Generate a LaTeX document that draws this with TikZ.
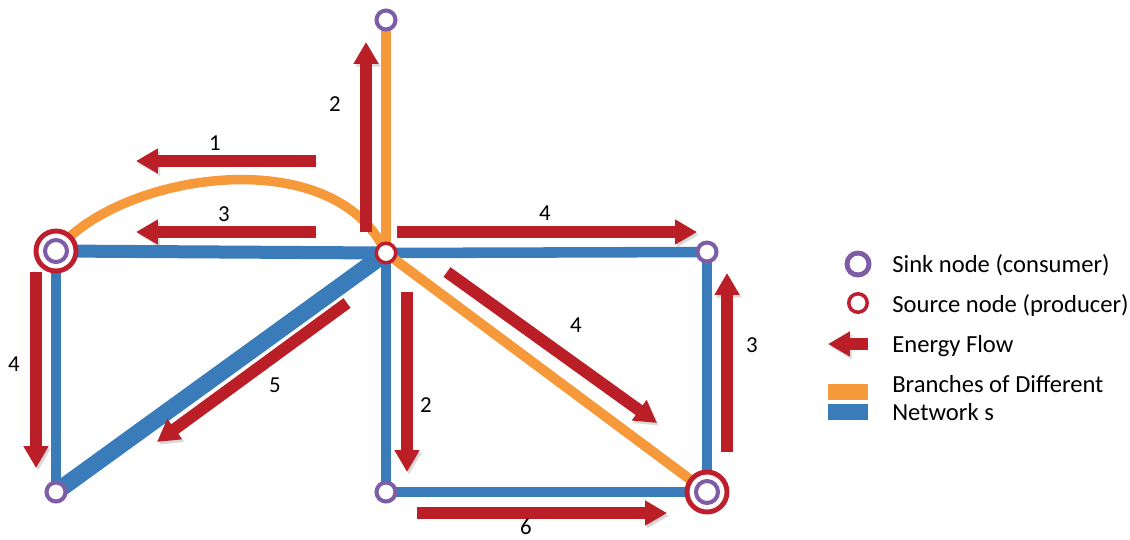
\documentclass[tikz,border=0pt]{standalone}
\usepackage{fontspec}
\setmainfont{Carlito}
\usetikzlibrary{arrows.meta}
\definecolor{netblue}{HTML}{3A7CBA}
\definecolor{netorange}{HTML}{F6993A}
\definecolor{flowred}{HTML}{BA1E26}
\definecolor{sinkpurple}{HTML}{7E5DA8}
\definecolor{srcred}{HTML}{BE1E2D}

\begin{document}
\begin{tikzpicture}[x=0.02cm,y=-0.02cm,font=\fontsize{13}{15}\selectfont,pipe/.style={line width=6pt,draw=netblue},branch/.style={line width=5.7pt,draw=netorange},flow/.style={-{Triangle[length=12.5pt,width=13.5pt]},line width=6.8pt,draw=flowred,preaction={draw=black!60,opacity=.25,transform canvas={shift={(1.2pt,-1.5pt)}}}},sink/.style={circle,draw=sinkpurple,fill=white,line width=2.3pt,minimum size=.38cm,inner sep=0pt},source/.style={circle,draw=srcred,fill=white,line width=2pt,minimum size=.39cm,inner sep=0pt},hub/.style={circle,draw=srcred,fill=white,line width=2.8pt,minimum size=.8cm,inner sep=0pt},legend/.style={anchor=base west,font=\fontsize{14}{16}\selectfont,inner sep=0pt}]
  \useasboundingbox (0,0) rectangle (1130,539);
  \coordinate (top) at (386,20);
  \coordinate (mid) at (386,253);
  \coordinate (west) at (56,251);
  \coordinate (east) at (707,252);
  \coordinate (sw) at (56,492);
  \coordinate (south) at (386,492);
  \coordinate (se) at (707,492);
  \draw[pipe,line width=7.4pt] (west) -- (mid);
  \draw[pipe] (west) -- (sw);
  \draw[pipe,line width=9.6pt] (sw) -- (mid);
  \draw[pipe] (mid) -- (east);
  \draw[pipe] (east) -- (se);
  \draw[pipe] (mid) -- (south);
  \draw[pipe] (south) -- (se);
  \draw[branch,line width=5.4pt] (west) .. controls (120,172) and (335,140) .. (mid);
  \draw[branch] (top) -- (mid);
  \draw[branch] (mid) -- (se);
  \draw[flow] (316,161) -- (136,161);
  \draw[flow] (316,232) -- (136,232);
  \draw[flow] (366,232) -- (366,42);
  \draw[flow] (397,232) -- (697,232);
  \draw[flow] (36,272) -- (36,468);
  \draw[flow] (347,303) -- (157,442);
  \draw[flow] (407,292) -- (407,472);
  \draw[flow] (447,272) -- (657,423);
  \draw[flow] (727,452) -- (727,273);
  \draw[flow] (417,513) -- (667,513);
  \node (f1) at (215,143) {1};
  \node (f3w) at (224,214) {3};
  \node (f2n) at (335,104) {2};
  \node (f4e) at (545,213) {4};
  \node (f4w) at (14,364) {4};
  \node (f5) at (275,385) {5};
  \node (f2s) at (426,405) {2};
  \node (f4se) at (576,325) {4};
  \node (f3e) at (752,345) {3};
  \node[inner sep=0pt] (f6) at (526,527) {6};
  \node[sink] (topN) at (top) {};
  \node[source] (midN) at (mid) {};
  \node[hub] (westH) at (west) {};
  \node[sink,minimum size=.44cm] (westN) at (west) {};
  \node[sink] (eastN) at (east) {};
  \node[sink] (swN) at (sw) {};
  \node[sink] (southN) at (south) {};
  \node[hub] (seH) at (se) {};
  \node[sink,minimum size=.44cm] (seN) at (se) {};
  \node[sink,line width=2.8pt,minimum size=.44cm] (keySink) at (858,264) {};
  \node[legend] (txtSink) at (892,272) {Sink node (consumer)};
  \node[source,minimum size=.37cm] (keySource) at (858,303) {};
  \node[legend] (txtSource) at (892,312) {Source node (producer)};
  \draw[flow] (868,344) -- (828,344);
  \node[legend] (txtFlow) at (892,352) {Energy Flow};
  \fill[netorange] (828,384) rectangle (868,400);
  \fill[netblue] (828,404) rectangle (868,420);
  \node[legend] (txtBranch) at (892,392) {Branches of Different};
  \node[legend] (txtNet) at (892,420) {Network s};
\end{tikzpicture}
\end{document}
